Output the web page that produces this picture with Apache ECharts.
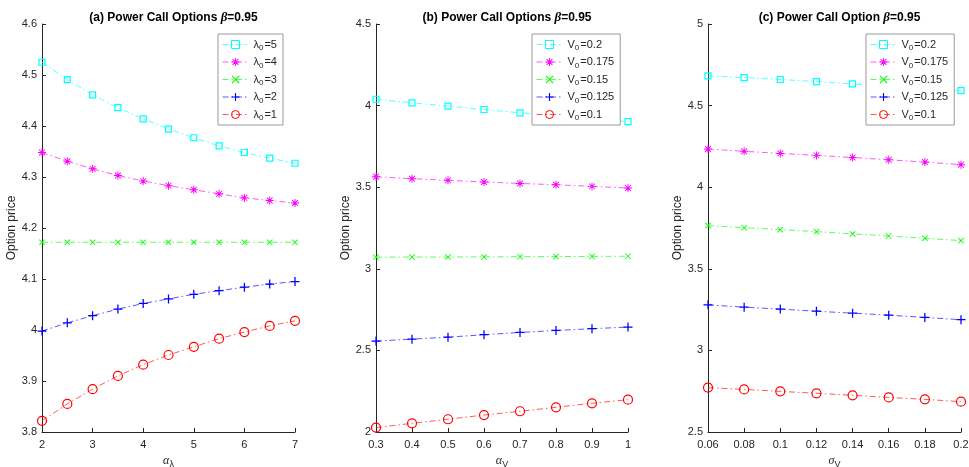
<!DOCTYPE html>
<html>
<head>
<meta charset="utf-8">
<script src="https://cdn.jsdelivr.net/npm/echarts@6/dist/echarts.min.js"></script>
<style>
  html, body { margin: 0; padding: 0; background: #fff; }
  #chart { width: 969px; height: 467px; }
</style>
</head>
<body>
<div id="chart"></div>
<script>
// ---- x values for each panel ----
const alphaLambda = [2, 2.5, 3, 3.5, 4, 4.5, 5, 5.5, 6, 6.5, 7];
const alphaV = [0.3, 0.4, 0.5, 0.6, 0.7, 0.8, 0.9, 1.0];
const sigmaV = [0.06, 0.08, 0.1, 0.12, 0.14, 0.16, 0.18, 0.2];

// ---- (a) price vs alpha_lambda, one curve per lambda_0 ----
const lambdaLabels = ['λ0=5', 'λ0=4', 'λ0=3', 'λ0=2', 'λ0=1'];
const aLambda5 = [4.525, 4.491, 4.461, 4.436, 4.414, 4.394, 4.377, 4.361, 4.348, 4.337, 4.327];
const aLambda4 = [4.348, 4.331, 4.316, 4.303, 4.292, 4.283, 4.275, 4.267, 4.259, 4.254, 4.249];
const aLambda3 = [4.172, 4.172, 4.172, 4.172, 4.172, 4.172, 4.172, 4.172, 4.172, 4.172, 4.172];
const aLambda2 = [3.998, 4.014, 4.028, 4.041, 4.052, 4.061, 4.070, 4.077, 4.084, 4.090, 4.095];
const aLambda1 = [3.822, 3.855, 3.884, 3.910, 3.932, 3.951, 3.967, 3.983, 3.996, 4.008, 4.018];

// ---- (b) price vs alpha_V, one curve per V_0 ----
const vLabels = ['V0=0.2', 'V0=0.175', 'V0=0.15', 'V0=0.125', 'V0=0.1'];
const bV200 = [4.039, 4.017, 3.997, 3.976, 3.956, 3.937, 3.919, 3.902];
const bV175 = [3.564, 3.552, 3.542, 3.532, 3.523, 3.515, 3.505, 3.495];
const bV150 = [3.071, 3.072, 3.072, 3.073, 3.074, 3.075, 3.076, 3.077];
const bV125 = [2.557, 2.569, 2.581, 2.596, 2.610, 2.622, 2.633, 2.643];
const bV100 = [2.027, 2.053, 2.078, 2.104, 2.127, 2.151, 2.176, 2.198];

// ---- (c) price vs sigma_V, one curve per V_0 ----
const cV200 = [4.682, 4.672, 4.660, 4.647, 4.633, 4.620, 4.606, 4.592];
const cV175 = [4.234, 4.220, 4.207, 4.195, 4.182, 4.168, 4.154, 4.138];
const cV150 = [3.765, 3.752, 3.740, 3.728, 3.714, 3.701, 3.687, 3.673];
const cV125 = [3.279, 3.265, 3.253, 3.240, 3.228, 3.216, 3.202, 3.188];
const cV100 = [2.772, 2.761, 2.749, 2.737, 2.725, 2.712, 2.700, 2.686];

// ---- styling ----
const FONT = 'Liberation Sans';
const AXIS_INK = '#262626';
const DASH_DOT = [6, 3, 1.5, 3];
const colors = ['#00ffff', '#ff00ff', '#00ff00', '#0000ff', '#ff0000'];
const PLUS = 'path://M0,4.3H10V5.7H0Z M4.3,0H5.7V10H4.3Z';
const CROSS = 'path://M1,0L5,4L9,0L10,1L6,5L10,9L9,10L5,6L1,10L0,9L4,5L0,1Z';
const STAR = 'path://M0,4.4H10V5.6H0Z M4.4,0H5.6V10H4.4Z M1.8,1L5,4.2L8.2,1L9,1.8L5.8,5L9,8.2L8.2,9L5,5.8L1.8,9L1,8.2L4.2,5L1,1.8Z';
const markers = [
  { symbol: 'rect', size: 6, hollow: true },
  { symbol: STAR, size: 8, hollow: false },
  { symbol: CROSS, size: 6, hollow: false },
  { symbol: PLUS, size: 9, hollow: false },
  { symbol: 'circle', size: 9, hollow: true }
];

const grids = [
  { left: 42, top: 24, width: 253, height: 408, outerBoundsMode: 'none' },
  { left: 376, top: 24, width: 252, height: 408, outerBoundsMode: 'none' },
  { left: 708, top: 24, width: 253, height: 408, outerBoundsMode: 'none' }
];

function xAxisFor(gridIndex, min, max, interval, name) {
  return {
    type: 'value', gridIndex, min, max, interval,
    name, nameLocation: 'middle', nameGap: 19,
    nameTextStyle: {
      color: AXIS_INK,
      rich: {
        g: { fontFamily: 'Liberation Serif', fontStyle: 'italic', fontSize: 12, color: AXIS_INK },
        s: { fontFamily: FONT, fontSize: 9, color: AXIS_INK, padding: [8, 0, 0, 0] }
      }
    },
    axisLine: { show: true, onZero: false, lineStyle: { color: AXIS_INK, width: 1 } },
    axisTick: { show: true, inside: true, length: 4, lineStyle: { color: AXIS_INK } },
    axisLabel: { color: AXIS_INK, fontFamily: FONT, fontSize: 11, margin: 7 },
    splitLine: { show: false }
  };
}

function yAxisFor(gridIndex, min, max, interval, nameGap) {
  return {
    type: 'value', gridIndex, min, max, interval,
    name: 'Option price', nameLocation: 'middle', nameGap,
    nameTextStyle: { color: AXIS_INK, fontFamily: FONT, fontSize: 12 },
    axisLine: { show: true, onZero: false, lineStyle: { color: AXIS_INK, width: 1 } },
    axisTick: { show: true, inside: true, length: 4, lineStyle: { color: AXIS_INK } },
    axisLabel: { color: AXIS_INK, fontFamily: FONT, fontSize: 11, margin: 5 },
    splitLine: { show: false }
  };
}

function makeSeries(gridIndex, names, xs, ys) {
  return ys.map((vals, k) => {
    const m = markers[k];
    return {
      type: 'line', name: names[k],
      xAxisIndex: gridIndex, yAxisIndex: gridIndex,
      data: xs.map((x, i) => [x, vals[i]]),
      symbol: m.symbol, symbolSize: m.size,
      showAllSymbol: true,
      color: colors[k],
      itemStyle: m.hollow
        ? { color: 'rgba(255,255,255,0)', borderColor: colors[k], borderWidth: 1.2 }
        : { color: colors[k], borderWidth: 0 },
      lineStyle: { color: colors[k], width: 1, opacity: 0.65, type: DASH_DOT },
      emphasis: { disabled: true },
      animation: false
    };
  });
}

function titleFor(gridIndex, prefix, word) {
  const g = grids[gridIndex];
  return {
    text: '{b|' + prefix + ' Power Call ' + word + ' }{i|β}{b|=0.95}',
    left: g.left + g.width / 2, top: 6, textAlign: 'center',
    textStyle: {
      rich: {
        b: { fontFamily: FONT, fontWeight: 'bold', fontSize: 12, color: '#000' },
        i: { fontFamily: 'Liberation Serif', fontStyle: 'italic', fontWeight: 'bold', fontSize: 13, color: '#000' }
      }
    }
  };
}

// legend text: first letter, subscript 0, then the "=value" part
function legendLabel(name) {
  return '{t|' + name.charAt(0) + '}{s|0}{t|' + name.slice(2) + '}';
}

function legendFor(names, left, width) {
  return {
    data: names, left, top: 34, orient: 'vertical',
    width,
    backgroundColor: '#fff', borderColor: '#9a9a9a', borderWidth: 1, borderRadius: 0,
    padding: [5, 6, 3, 4], itemGap: 4.5, itemWidth: 26, itemHeight: 10,
    selectedMode: false,
    formatter: legendLabel,
    itemStyle: { borderWidth: 1 },
    lineStyle: { width: 1, type: DASH_DOT, opacity: 0.65 },
    textStyle: {
      color: AXIS_INK, fontFamily: FONT, fontSize: 11,
      rich: {
        t: { color: AXIS_INK, fontFamily: FONT, fontSize: 11 },
        s: { color: AXIS_INK, fontFamily: FONT, fontSize: 8, padding: [7, 1, 0, 0] }
      }
    }
  };
}

const option = {
  backgroundColor: '#fff',
  animation: false,
  title: [
    titleFor(0, '(a)', 'Options'),
    titleFor(1, '(b)', 'Options'),
    titleFor(2, '(c)', 'Option')
  ],
  legend: [
    legendFor(lambdaLabels, 218, 67),
    legendFor(vLabels, 532, 85),
    legendFor(vLabels, 866, 85)
  ],
  grid: grids,
  xAxis: [
    xAxisFor(0, 2, 7, 1, '{g|α}{s|λ}'),
    xAxisFor(1, 0.3, 1, 0.1, '{g|α}{s|V}'),
    xAxisFor(2, 0.06, 0.2, 0.02, '{g|σ}{s|V}')
  ],
  yAxis: [
    yAxisFor(0, 3.8, 4.6, 0.1, 24),
    yAxisFor(1, 2, 4.5, 0.5, 22),
    yAxisFor(2, 2.5, 5, 0.5, 23)
  ],
  series: [
    ...makeSeries(0, lambdaLabels, alphaLambda, [aLambda5, aLambda4, aLambda3, aLambda2, aLambda1]),
    ...makeSeries(1, vLabels, alphaV, [bV200, bV175, bV150, bV125, bV100]),
    ...makeSeries(2, vLabels, sigmaV, [cV200, cV175, cV150, cV125, cV100])
  ]
};

const chart = echarts.init(document.getElementById('chart'), null, { renderer: 'canvas' });
chart.setOption(option);
</script>
</body>
</html>
